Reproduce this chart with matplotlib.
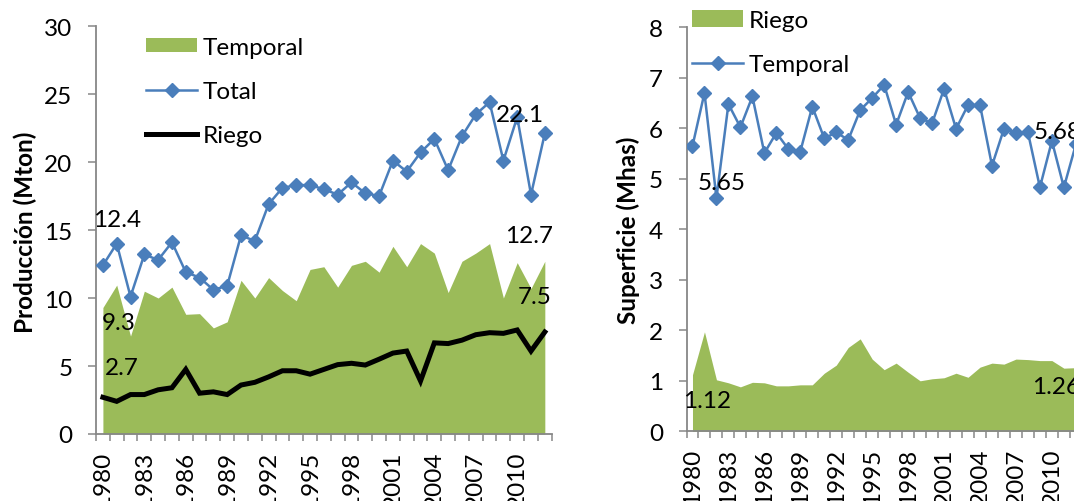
import matplotlib
matplotlib.use("Agg")
import matplotlib.pyplot as plt
from matplotlib.patches import Patch
from matplotlib.lines import Line2D
import numpy as np

plt.rcParams['font.family'] = ['Lato', 'DejaVu Sans']

# ---------------- data ----------------
years = list(range(1980, 2013))

prod_total = [12.4, 14.0, 10.1, 13.2, 12.8, 14.1, 11.9, 11.5, 10.6, 10.9,
              14.6, 14.2, 16.9, 18.1, 18.3, 18.3, 18.0, 17.6, 18.5, 17.7,
              17.5, 20.1, 19.3, 20.7, 21.7, 19.4, 21.9, 23.5, 24.4, 20.1,
              23.3, 17.6, 22.1]
prod_temporal = [9.3, 10.95, 7.2, 10.5, 10.0, 10.8, 8.8, 8.85, 7.8, 8.25,
                 11.3, 10.0, 11.5, 10.55, 9.8, 12.1, 12.3, 10.8, 12.4, 12.7,
                 11.9, 13.8, 12.3, 14.0, 13.3, 10.4, 12.7, 13.3, 14.0, 10.0,
                 12.6, 10.7, 12.7]
prod_riego = [2.7, 2.4, 2.9, 2.9, 3.25, 3.4, 4.75, 3.0, 3.1, 2.9,
              3.6, 3.8, 4.2, 4.65, 4.65, 4.4, 4.75, 5.1, 5.2, 5.07,
              5.5, 5.95, 6.1, 3.9, 6.7, 6.65, 6.9, 7.3, 7.45, 7.4,
              7.65, 6.1, 7.5]

sup_temporal = [5.65, 6.70, 4.62, 6.48, 6.02, 6.63, 5.51, 5.91, 5.59, 5.54,
                6.43, 5.80, 5.92, 5.77, 6.36, 6.60, 6.86, 6.07, 6.72, 6.20,
                6.10, 6.78, 5.99, 6.46, 6.46, 5.26, 5.99, 5.91, 5.92, 4.83,
                5.75, 4.83, 5.68]
sup_riego = [1.12, 1.97, 1.02, 0.96, 0.88, 0.97, 0.96, 0.90, 0.90, 0.92,
             0.92, 1.15, 1.31, 1.66, 1.83, 1.43, 1.22, 1.35, 1.17, 1.00,
             1.04, 1.06, 1.15, 1.07, 1.27, 1.35, 1.33, 1.43, 1.42, 1.40,
             1.40, 1.25, 1.26]

tick_years = years[::3][:11]  # 1980 ... 2010

# ---------------- style ----------------
GREEN = '#9BBB59'
BLUE = '#4A7EBB'
AXC = '#878787'
FS = 17.5
W, H = 1074, 502

fig = plt.figure(figsize=(W / 100, H / 100), dpi=100)

def px_rect(x0, ytop, x1, ybot):
    return [x0 / W, 1 - ybot / H, (x1 - x0) / W, (ybot - ytop) / H]

ax1 = fig.add_axes(px_rect(96, 27, 96 + 33 * 13.81, 435))
ax2 = fig.add_axes(px_rect(686.5, 28.3, 686.5 + 33 * 11.98, 432.3))

x = np.arange(len(years))

def style_axis(ax, ymax, ystep):
    ax.set_xlim(-0.5, len(years) - 0.5)
    ax.set_ylim(0, ymax)
    ax.set_yticks(np.arange(0, ymax + 0.001, ystep))
    for s in ['top', 'right']:
        ax.spines[s].set_visible(False)
    for s in ['left', 'bottom']:
        ax.spines[s].set_color(AXC)
        ax.spines[s].set_linewidth(1.3)
    ax.tick_params(axis='y', direction='out', length=6, width=1.1, color=AXC,
                   labelsize=FS, pad=11)
    idx = [years.index(y) for y in tick_years]
    ax.set_xticks(idx)
    ax.set_xticklabels([str(y) for y in tick_years], rotation=90, fontsize=FS)
    ax.set_xticks(np.arange(-0.5, len(years)), minor=True)
    ax.tick_params(axis='x', which='major', length=0, pad=12)
    ax.tick_params(axis='x', which='minor', direction='out', length=5,
                   width=1.1, color=AXC)
    for lab in ax.get_xticklabels():
        lab.set_va('top')

def label(ax, xi, yv, text, dx, dy):
    ax.annotate(text, (xi, yv), xytext=(dx, dy), textcoords='offset pixels',
                ha='center', va='center', fontsize=FS, color='black',
                annotation_clip=False)

# ---------------- left: Producción ----------------
ax1.fill_between(x, 0, prod_temporal, color=GREEN, lw=0, zorder=1)
ax1.plot(x, prod_total, color=BLUE, lw=1.8, marker='D', ms=7.5,
         mec=BLUE, mfc=BLUE, zorder=3)
ax1.plot(x, prod_riego, color='black', lw=3.6, zorder=2,
         solid_joinstyle='miter')
style_axis(ax1, 30, 5)

label(ax1, 0, prod_total[0], f"{prod_total[0]:.1f}", 14, 46)
label(ax1, 0, prod_temporal[0], f"{prod_temporal[0]:.1f}", 16, -15)
label(ax1, 0, prod_riego[0], f"{prod_riego[0]:.1f}", 19, 30)
label(ax1, x[-1], prod_total[-1], f"{prod_total[-1]:.1f}", -25, 19)
label(ax1, x[-1], prod_temporal[-1], f"{prod_temporal[-1]:.1f}", -16, 26)
label(ax1, x[-1], prod_riego[-1], f"{prod_riego[-1]:.1f}", -10, 36)

h1 = [Patch(facecolor=GREEN, edgecolor='none'),
      Line2D([], [], color=BLUE, lw=1.8, marker='D', ms=7.5),
      Line2D([], [], color='black', lw=3.6)]
fig.legend(h1, ['Temporal', 'Total', 'Riego'], loc='upper left',
           bbox_to_anchor=(146 / W, 1 - 38 / H), bbox_transform=fig.transFigure,
           frameon=False, fontsize=FS, handlelength=2.1, handletextpad=0.22,
           labelspacing=0.95, borderpad=0, borderaxespad=0, numpoints=1,
           handleheight=0.5)

fig.text(25 / W, 1 - 232 / H, 'Producción (Mton)', rotation=90, ha='center',
         va='center', fontsize=FS, fontweight='bold')

# ---------------- right: Superficie ----------------
ax2.fill_between(x, 0, sup_riego, color=GREEN, lw=0, zorder=1)
ax2.plot(x, sup_temporal, color=BLUE, lw=1.8, marker='D', ms=7.5,
         mec=BLUE, mfc=BLUE, zorder=3)
style_axis(ax2, 8, 1)

label(ax2, 0, sup_temporal[0], f"{sup_temporal[0]:.2f}", 29, -37)
label(ax2, 0, sup_riego[0], f"{sup_riego[0]:.2f}", 15, -26)
label(ax2, x[-1], sup_temporal[-1], f"{sup_temporal[-1]:.2f}", -18, 13)
label(ax2, x[-1], sup_riego[-1], f"{sup_riego[-1]:.2f}", -20, -19)

h2 = [Patch(facecolor=GREEN, edgecolor='none'),
      Line2D([], [], color=BLUE, lw=1.8, marker='D', ms=7.5)]
fig.legend(h2, ['Riego', 'Temporal'], loc='upper left',
           bbox_to_anchor=(692 / W, 1 - 11 / H), bbox_transform=fig.transFigure,
           frameon=False, fontsize=FS, handlelength=2.1, handletextpad=0.22,
           labelspacing=0.95, borderpad=0, borderaxespad=0, numpoints=1,
           handleheight=0.65)

fig.text(628 / W, 1 - 230 / H, 'Superficie (Mhas)', rotation=90, ha='center',
         va='center', fontsize=FS, fontweight='bold')

fig.savefig('out.png', dpi=100)
